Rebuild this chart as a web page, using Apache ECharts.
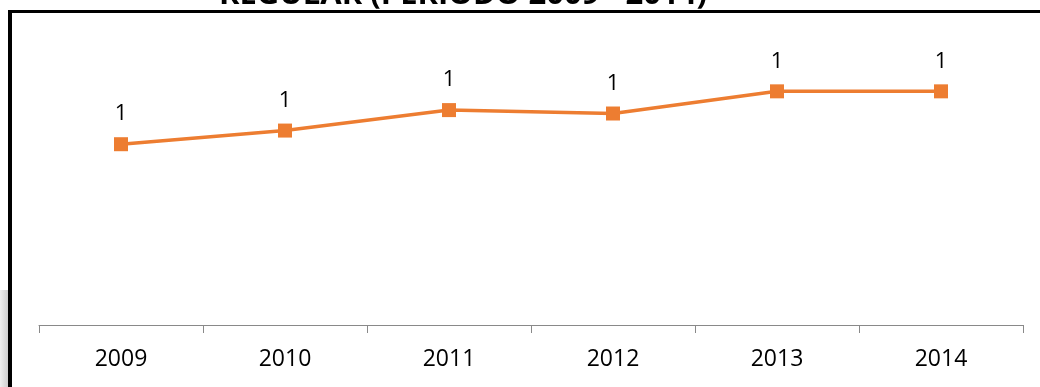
<!DOCTYPE html>
<html>
<head>
<meta charset="utf-8">
<script src="https://cdn.jsdelivr.net/npm/echarts@6/dist/echarts.min.js"></script>
<style>
  html, body { margin: 0; padding: 0; background: #fff; }
  #chart { width: 1040px; height: 387px; }
</style>
</head>
<body>
<div id="chart"></div>
<script>
// datos
const years = ['2009', '2010', '2011', '2012', '2013', '2014'];
const values = [1.06, 1.14, 1.26, 1.24, 1.37, 1.37];
const titleText = 'REGULAR (PERIODO 2009 - 2014)';

const chart = echarts.init(document.getElementById('chart'));

chart.setOption({
    animation: false,
    backgroundColor: '#fff',
    grid: { left: 39, right: 17, top: 18, bottom: 62 },
    xAxis: {
        type: 'category',
        data: years,
        boundaryGap: true,
        axisLine: { lineStyle: { color: '#898989', width: 1 } },
        axisTick: { show: true, length: 8, lineStyle: { color: '#898989' } },
        axisLabel: { color: '#000', fontSize: 23, fontFamily: 'Open Sans', margin: 23 }
    },
    yAxis: {
        type: 'value',
        min: 0,
        max: 1.8,
        show: false
    },
    series: [{
        type: 'line',
        data: values,
        symbol: 'rect',
        symbolSize: 14,
        itemStyle: { color: '#ED7D31' },
        lineStyle: { color: '#ED7D31', width: 3.5 },
        label: {
            show: true,
            position: 'top',
            distance: 12,
            color: '#000',
            fontSize: 22,
            fontFamily: 'Open Sans',
            formatter: p => Math.round(p.value)
        }
    }],
    graphic: [
        // sombra gris a la izquierda
        {
            type: 'rect',
            shape: { x: 0, y: 290, width: 8, height: 97 },
            style: {
                fill: new echarts.graphic.LinearGradient(0, 0, 1, 0, [
                    { offset: 0, color: '#f0f0f0' },
                    { offset: 1, color: '#cfcfcf' }
                ])
            }
        },
        // borde del recuadro
        { type: 'rect', shape: { x: 8, y: 10, width: 4, height: 377 }, style: { fill: '#000' } },
        { type: 'rect', shape: { x: 8, y: 10, width: 1032, height: 3 }, style: { fill: '#000' } },
        // titulo cortado arriba
        {
            type: 'text',
            x: 463,
            y: 11,
            style: {
                text: titleText,
                fill: '#000',
                font: 'bold 31px "Open Sans"',
                align: 'center',
                verticalAlign: 'bottom'
            }
        }
    ]
});
</script>
</body>
</html>
